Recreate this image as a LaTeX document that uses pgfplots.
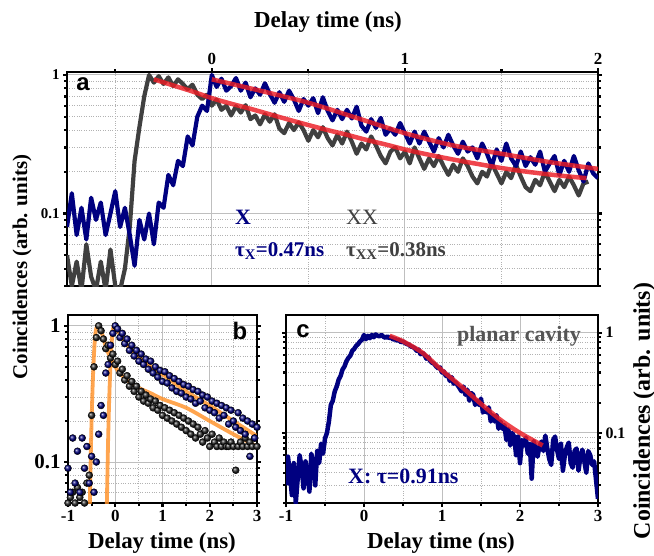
\documentclass[border=0pt]{standalone}
\usepackage{pgfplots}
\usepackage{pgfplotstable}
\pgfplotsset{compat=1.18}
\usepackage{fontspec}
\setmainfont{Liberation Serif}
\newfontfamily\panelfont{Liberation Sans}

\definecolor{xblue}{RGB}{0,0,128}
\definecolor{xxgray}{RGB}{64,64,64}
\definecolor{fitred}{RGB}{235,28,36}
\definecolor{fitorange}{RGB}{255,145,40}
\definecolor{txtgray}{RGB}{85,85,85}

% panel a: X and XX traces
\pgfplotstableread{
x y
-0.750 0.08
-0.725 0.14
-0.700 0.07
-0.675 0.11
-0.650 0.065
-0.625 0.13
-0.600 0.09
-0.575 0.12
-0.550 0.07
-0.525 0.10
-0.500 0.145
-0.475 0.08
-0.450 0.11
-0.425 0.07
-0.400 0.042
-0.375 0.09
-0.350 0.065
-0.325 0.10
-0.300 0.06
-0.275 0.12
-0.250 0.11
-0.225 0.19
-0.200 0.16
-0.175 0.24
-0.150 0.22
-0.125 0.36
-0.100 0.31
-0.075 0.50
-0.050 0.60
-0.025 0.55
0.000 1.00
0.025 0.82
0.050 0.94
0.075 0.77
0.100 0.83
0.125 0.95
0.150 0.77
0.175 0.88
0.200 0.69
0.225 0.80
0.250 0.72
0.275 0.87
0.300 0.73
0.325 0.63
0.350 0.75
0.375 0.64
0.400 0.77
0.425 0.665
0.450 0.55
0.475 0.67
0.500 0.60
0.525 0.68
0.550 0.53
0.575 0.69
0.600 0.55
0.625 0.47
0.650 0.56
0.675 0.48
0.700 0.56
0.725 0.485
0.750 0.59
0.775 0.43
0.800 0.39
0.825 0.48
0.850 0.415
0.875 0.49
0.900 0.37
0.925 0.41
0.950 0.37
0.975 0.45
1.000 0.38
1.025 0.32
1.050 0.39
1.075 0.32
1.100 0.39
1.125 0.33
1.150 0.28
1.175 0.35
1.200 0.30
1.225 0.37
1.250 0.31
1.275 0.27
1.300 0.33
1.325 0.28
1.350 0.30
1.375 0.25
1.400 0.32
1.425 0.27
1.450 0.22
1.475 0.29
1.500 0.24
1.525 0.32
1.550 0.25
1.575 0.22
1.600 0.28
1.625 0.22
1.650 0.255
1.675 0.225
1.700 0.28
1.725 0.20
1.750 0.23
1.775 0.26
1.800 0.19
1.825 0.24
1.850 0.20
1.875 0.26
1.900 0.205
1.925 0.17
1.950 0.23
1.975 0.195
2.000 0.18
}\Xa

\pgfplotstableread{
x y
-0.750 0.05
-0.725 0.03
-0.700 0.045
-0.675 0.028
-0.650 0.06
-0.625 0.035
-0.600 0.028
-0.575 0.045
-0.550 0.028
-0.525 0.055
-0.500 0.03
-0.475 0.028
-0.450 0.04
-0.425 0.08
-0.400 0.24
-0.375 0.42
-0.350 0.70
-0.325 1.00
-0.300 0.88
-0.275 0.98
-0.250 0.86
-0.225 0.96
-0.200 0.83
-0.175 0.93
-0.150 0.86
-0.125 0.79
-0.100 0.85
-0.075 0.72
-0.050 0.67
-0.025 0.72
0.000 0.60
0.025 0.665
0.050 0.56
0.075 0.60
0.100 0.51
0.125 0.595
0.150 0.535
0.175 0.605
0.200 0.48
0.225 0.51
0.250 0.44
0.275 0.52
0.300 0.46
0.325 0.52
0.350 0.41
0.375 0.38
0.400 0.45
0.425 0.40
0.450 0.455
0.475 0.40
0.500 0.335
0.525 0.40
0.550 0.355
0.575 0.42
0.600 0.35
0.625 0.31
0.650 0.37
0.675 0.32
0.700 0.39
0.725 0.33
0.750 0.27
0.775 0.32
0.800 0.29
0.825 0.36
0.850 0.31
0.875 0.26
0.900 0.23
0.925 0.28
0.950 0.30
0.975 0.25
1.000 0.28
1.025 0.23
1.050 0.30
1.075 0.25
1.100 0.21
1.125 0.25
1.150 0.22
1.175 0.26
1.200 0.22
1.225 0.19
1.250 0.225
1.275 0.20
1.300 0.25
1.325 0.22
1.350 0.185
1.375 0.165
1.400 0.20
1.425 0.185
1.450 0.23
1.475 0.195
1.500 0.165
1.525 0.20
1.550 0.18
1.575 0.225
1.600 0.185
1.625 0.155
1.650 0.145
1.675 0.175
1.700 0.16
1.725 0.20
1.750 0.17
1.775 0.145
1.800 0.175
1.825 0.155
1.850 0.185
1.875 0.16
1.900 0.135
1.925 0.165
1.950 0.17
}\XXa

% panel b: binned points
\pgfplotstableread{
x y
-1.00 0.09
-0.95 0.06
-0.90 0.15
-0.85 0.07
-0.80 0.12
-0.75 0.06
-0.70 0.15
-0.65 0.09
-0.60 0.13
-0.55 0.07
-0.50 0.11
-0.45 0.06
-0.40 0.10
-0.35 0.16
-0.30 0.26
-0.25 0.22
-0.20 0.45
-0.15 0.52
-0.10 0.72
-0.05 0.88
0.00 1.00
0.05 0.95
0.10 0.82
0.15 0.88
0.20 0.74
0.25 0.80
0.30 0.66
0.35 0.72
0.40 0.60
0.45 0.66
0.50 0.55
0.55 0.62
0.60 0.52
0.65 0.57
0.70 0.48
0.75 0.55
0.80 0.45
0.85 0.50
0.90 0.42
0.95 0.47
1.00 0.39
1.05 0.46
1.10 0.38
1.15 0.43
1.20 0.35
1.25 0.41
1.30 0.33
1.35 0.39
1.40 0.32
1.45 0.37
1.50 0.30
1.55 0.36
1.60 0.29
1.65 0.34
1.70 0.27
1.75 0.33
1.80 0.28
1.85 0.31
1.90 0.25
1.95 0.30
2.00 0.24
2.05 0.28
2.10 0.23
2.15 0.27
2.20 0.21
2.25 0.26
2.30 0.22
2.35 0.25
2.40 0.19
2.45 0.24
2.50 0.20
2.55 0.18
2.60 0.23
2.65 0.17
2.70 0.21
2.75 0.16
2.80 0.20
2.85 0.11
2.90 0.19
2.95 0.15
3.00 0.18
}\Xb

\pgfplotstableread{
x y
-1.00 0.05
-0.95 0.055
-0.90 0.06
-0.85 0.05
-0.80 0.065
-0.75 0.055
-0.70 0.06
-0.65 0.05
-0.60 0.07
-0.55 0.08
-0.50 0.22
-0.45 0.50
-0.40 0.82
-0.35 1.00
-0.30 0.92
-0.25 0.80
-0.20 0.68
-0.15 0.72
-0.10 0.58
-0.05 0.62
0.00 0.52
0.05 0.55
0.10 0.45
0.15 0.48
0.20 0.40
0.25 0.43
0.30 0.36
0.35 0.39
0.40 0.33
0.45 0.36
0.50 0.30
0.55 0.33
0.60 0.28
0.65 0.31
0.70 0.27
0.75 0.29
0.80 0.25
0.85 0.28
0.90 0.24
0.95 0.26
1.00 0.22
1.05 0.25
1.10 0.21
1.15 0.24
1.20 0.20
1.25 0.23
1.30 0.19
1.35 0.22
1.40 0.18
1.45 0.21
1.50 0.17
1.55 0.20
1.60 0.16
1.65 0.19
1.70 0.15
1.75 0.18
1.80 0.16
1.85 0.14
1.90 0.17
1.95 0.15
2.00 0.13
2.05 0.16
2.10 0.14
2.15 0.13
2.20 0.15
2.25 0.13
2.30 0.14
2.35 0.13
2.40 0.13
2.45 0.14
2.50 0.13
2.55 0.087
2.60 0.13
2.65 0.14
2.70 0.13
2.75 0.15
2.80 0.13
2.85 0.14
2.90 0.13
2.95 0.15
3.00 0.13
}\XXb

% panel c: planar cavity
\pgfplotstableread{
x y
-1.000 0.030
-0.975 0.058
-0.950 0.040
-0.925 0.024
-0.900 0.050
-0.875 0.020
-0.850 0.035
-0.825 0.060
-0.800 0.045
-0.775 0.028
-0.750 0.052
-0.725 0.038
-0.700 0.026
-0.675 0.062
-0.650 0.048
-0.625 0.030
-0.600 0.066
-0.575 0.050
-0.550 0.078
-0.525 0.062
-0.500 0.088
-0.475 0.10
-0.450 0.13
-0.425 0.19
-0.400 0.21
-0.375 0.26
-0.350 0.29
-0.325 0.34
-0.300 0.37
-0.275 0.43
-0.250 0.46
-0.225 0.52
-0.200 0.56
-0.175 0.59
-0.150 0.66
-0.125 0.69
-0.100 0.74
-0.075 0.77
-0.050 0.82
-0.025 0.85
0.000 0.95
0.025 0.86
0.050 0.93
0.075 0.88
0.100 0.95
0.125 0.90
0.150 0.96
0.175 0.93
0.200 0.92
0.225 0.95
0.250 0.91
0.275 0.89
0.300 0.92
0.325 0.88
0.350 0.90
0.375 0.85
0.400 0.87
0.425 0.83
0.450 0.85
0.475 0.80
0.500 0.82
0.525 0.79
0.550 0.77
0.575 0.76
0.600 0.73
0.625 0.72
0.650 0.70
0.675 0.66
0.700 0.68
0.725 0.61
0.750 0.63
0.775 0.60
0.800 0.55
0.825 0.57
0.850 0.52
0.875 0.50
0.900 0.49
0.925 0.46
0.950 0.44
0.975 0.45
1.000 0.40
1.025 0.41
1.050 0.37
1.075 0.38
1.100 0.33
1.125 0.36
1.150 0.31
1.175 0.32
1.200 0.30
1.225 0.28
1.250 0.26
1.275 0.29
1.300 0.24
1.325 0.27
1.350 0.21
1.375 0.25
1.400 0.24
1.425 0.19
1.450 0.21
1.475 0.19
1.500 0.22
1.525 0.16
1.550 0.17
1.575 0.16
1.600 0.18
1.625 0.13
1.650 0.15
1.675 0.13
1.700 0.15
1.725 0.11
1.750 0.13
1.775 0.11
1.800 0.12
1.825 0.085
1.850 0.11
1.875 0.075
1.900 0.10
1.925 0.092
1.950 0.060
1.975 0.092
2.000 0.050
2.025 0.085
2.050 0.075
2.075 0.090
2.100 0.062
2.125 0.078
2.150 0.035
2.175 0.083
2.200 0.068
2.225 0.058
2.250 0.074
2.275 0.082
2.300 0.066
2.325 0.094
2.350 0.070
2.375 0.055
2.400 0.048
2.425 0.085
2.450 0.092
2.475 0.068
2.500 0.055
2.525 0.078
2.550 0.042
2.575 0.060
2.600 0.072
2.625 0.080
2.650 0.050
2.675 0.045
2.700 0.066
2.725 0.070
2.750 0.042
2.775 0.058
2.800 0.068
2.825 0.052
2.850 0.040
2.875 0.066
2.900 0.060
2.925 0.048
2.950 0.052
2.975 0.034
3.000 0.022
}\Xc

\begin{document}
\begin{tikzpicture}
\useasboundingbox (0,0) rectangle (654bp,-556bp);

% ---------- a ----------
\begin{axis}[scale only axis, ymode=log, anchor=south west,
  at={(67bp,-286bp)}, width=531bp, height=214bp,
  axis line style={line width=2.8bp}, tick align=outside,
  major tick length=4bp, minor tick length=3bp,
  tick style={black, line width=2.2bp},
  grid=both, major grid style={black!25, line width=1bp},
  minor grid style={black!30, dotted, line width=0.9bp},
  xmin=-0.75, xmax=2, ymin=0.03, ymax=1.05,
  xtick={0,1,2}, xticklabels={0,1,2}, minor xtick={-0.5,0.5,1.5},
  xtick pos=right, xticklabel pos=right,
  ytick={0.1,1}, yticklabels={0.1,1},
  minor ytick={0.03,0.04,0.05,0.06,0.07,0.08,0.09,0.2,0.3,0.4,0.5,0.6,0.7,0.8,0.9},
  ytick pos=both, yticklabel pos=left,
  xticklabel style={font=\fontsize{17}{17}\selectfont\bfseries},
  yticklabel style={font=\fontsize{15}{15}\selectfont\bfseries},
]
\addplot[xxgray, line width=4.2bp, line join=round] table {\XXa};
\addplot[xblue, line width=4.2bp, line join=round] table {\Xa};
\addplot[fitred, draw opacity=0.82, line width=4.5bp, smooth] coordinates {
  (-0.30,0.93) (-0.2,0.84) (-0.1,0.76) (0,0.68) (0.1,0.62) (0.2,0.57) (0.3,0.52)
  (0.4,0.475) (0.5,0.435) (0.6,0.40) (0.7,0.37) (0.8,0.34) (0.9,0.315) (1.0,0.29)
  (1.1,0.27) (1.2,0.253) (1.3,0.238) (1.4,0.225) (1.5,0.213) (1.6,0.203)
  (1.7,0.195) (1.8,0.188) (1.94,0.18)};
\addplot[fitred, draw opacity=0.82, line width=4.5bp, smooth] coordinates {
  (0,0.93) (0.25,0.77) (0.5,0.63) (0.75,0.49) (1.0,0.38) (1.25,0.31)
  (1.5,0.27) (1.75,0.235) (2.0,0.21)};
\end{axis}

% ---------- b ----------
\begin{axis}[scale only axis, ymode=log, anchor=south west,
  at={(68bp,-503bp)}, width=189bp, height=188bp,
  axis line style={line width=2.8bp}, tick align=outside,
  major tick length=4bp, minor tick length=3bp,
  tick style={black, line width=2.2bp},
  grid=both, major grid style={black!25, line width=1bp},
  minor grid style={black!30, dotted, line width=0.9bp},
  xmin=-1, xmax=3, ymin=0.05, ymax=1.2,
  xtick={-1,0,1,2,3}, xticklabels={-1,0,1,2,3}, minor xtick={-0.5,0.5,1.5,2.5},
  xtick pos=left, xticklabel pos=left,
  ytick={0.1,1}, yticklabels={0.1,1},
  minor ytick={0.05,0.06,0.07,0.08,0.09,0.2,0.3,0.4,0.5,0.6,0.7,0.8,0.9},
  ytick pos=both, yticklabel pos=left,
  xticklabel style={font=\fontsize{17}{17}\selectfont\bfseries},
  yticklabel style={font=\fontsize{21}{21}\selectfont\bfseries},
]
\addplot[only marks, mark=ball, mark size=3.5bp, ball color=black!85] table {\XXb};
\addplot[only marks, mark=ball, mark size=3.5bp, ball color=xblue] table {\Xb};
\addplot[fitorange, draw opacity=0.82, line width=3.8bp, smooth] coordinates {
  (-0.54,0.045) (-0.51,0.15) (-0.48,0.35) (-0.45,0.62) (-0.42,0.88) (-0.38,1.0)
  (-0.34,0.97) (-0.25,0.82) (-0.2,0.70) (-0.1,0.58) (0,0.50) (0.12,0.44)
  (0.25,0.40) (0.5,0.35) (0.75,0.32) (1,0.29) (1.5,0.25) (2,0.20) (2.5,0.16) (3,0.13)};
\addplot[fitorange, draw opacity=0.82, line width=3.8bp, smooth] coordinates {
  (-0.18,0.045) (-0.15,0.15) (-0.12,0.35) (-0.09,0.62) (-0.06,0.88) (-0.03,1.0)
  (0,0.98) (0.1,0.86) (0.25,0.72) (0.5,0.59) (0.75,0.50) (1,0.44) (1.5,0.33)
  (2,0.26) (2.5,0.20) (3,0.155)};
\end{axis}

% ---------- c ----------
\begin{axis}[scale only axis, ymode=log, anchor=south west,
  at={(286bp,-503bp)}, width=312bp, height=188bp,
  axis line style={line width=2.8bp}, tick align=outside,
  major tick length=4bp, minor tick length=3bp,
  tick style={black, line width=2.2bp},
  grid=both, major grid style={black!25, line width=1bp},
  minor grid style={black!30, dotted, line width=0.9bp},
  xmin=-1, xmax=3, ymin=0.02, ymax=1.5,
  xtick={-1,0,1,2,3}, xticklabels={-1,0,1,2,3}, minor xtick={-0.5,0.5,1.5,2.5},
  xtick pos=left, xticklabel pos=left,
  ytick={0.1,1}, yticklabels={0.1,1},
  minor ytick={0.02,0.03,0.04,0.05,0.06,0.07,0.08,0.09,0.2,0.3,0.4,0.5,0.6,0.7,0.8,0.9},
  ytick pos=both, yticklabel pos=right,
  xticklabel style={font=\fontsize{17}{17}\selectfont\bfseries},
  yticklabel style={font=\fontsize{16}{16}\selectfont\bfseries},
]
\addplot[xblue, line width=4.5bp, line join=round] table {\Xc};
\addplot[fitred, draw opacity=0.82, line width=4.5bp, smooth] coordinates {
  (0.33,0.93) (0.5,0.82) (0.75,0.63) (1.0,0.42) (1.25,0.29) (1.5,0.195)
  (1.75,0.135) (2.0,0.10) (2.29,0.075)};
\end{axis}

% labels and annotations
\node[font=\fontsize{23}{23}\selectfont\bfseries] at (328bp,-22bp) {Delay time (ns)};
\node[font=\fontsize{23}{23}\selectfont\bfseries] at (162bp,-543bp) {Delay time (ns)};
\node[font=\fontsize{23}{23}\selectfont\bfseries] at (441bp,-543bp) {Delay time (ns)};
\node[rotate=90, font=\fontsize{21}{21}\selectfont\bfseries] at (22bp,-267bp) {Coincidences (arb. units)};
\node[rotate=90, font=\fontsize{24}{24}\selectfont\bfseries] at (644bp,-411bp) {Coincidences (arb. units)};

\node[font=\panelfont\fontsize{24}{24}\selectfont\bfseries] at (83bp,-84bp) {a};
\node[font=\panelfont\fontsize{24}{24}\selectfont\bfseries] at (240bp,-331bp) {b};
\node[font=\panelfont\fontsize{24}{24}\selectfont\bfseries] at (303bp,-331bp) {c};

\node[anchor=base west, inner sep=0pt, text=xblue, font=\fontsize{22}{22}\selectfont\bfseries] at (235bp,-224bp) {X};
\node[anchor=base west, inner sep=0pt, text=xxgray, font=\fontsize{22}{22}\selectfont] at (346bp,-224bp) {XX};
\node[anchor=base west, inner sep=0pt, text=xblue, font=\fontsize{21}{21}\selectfont\bfseries] at (235bp,-256bp) {τ\textsubscript{X}=0.47ns};
\node[anchor=base west, inner sep=0pt, text=xxgray, font=\fontsize{21}{21}\selectfont\bfseries] at (346bp,-256bp) {τ\textsubscript{XX}=0.38ns};
\node[anchor=base west, inner sep=0pt, text=xblue, font=\fontsize{22}{22}\selectfont\bfseries] at (348bp,-483bp) {X: τ=0.91ns};
\node[anchor=base west, inner sep=0pt, text=txtgray, font=\fontsize{22}{22}\selectfont\bfseries] at (457bp,-341bp) {planar cavity};
\end{tikzpicture}
\end{document}
